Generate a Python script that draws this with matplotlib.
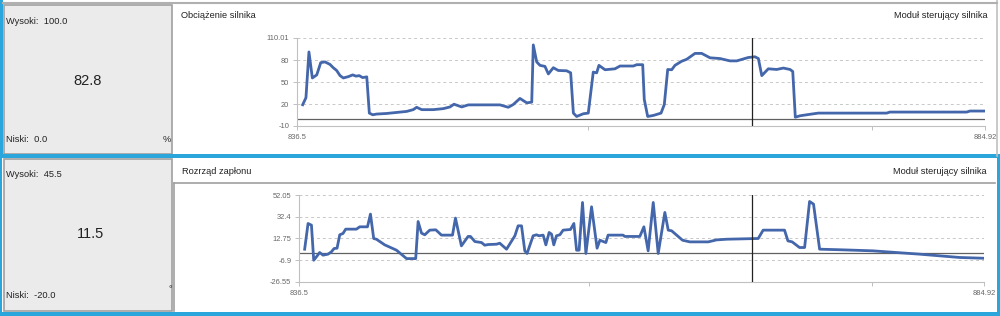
#!/usr/bin/env python3
"""Two stacked engine-parameter panels (load and ignition timing) in a dashboard style."""
import matplotlib
matplotlib.use("Agg")
import matplotlib.pyplot as plt
from matplotlib.patches import Rectangle
from matplotlib.lines import Line2D

plt.rcParams["font.family"] = ["Liberation Sans", "DejaVu Sans"]

W, H = 1000, 316

# --- data -------------------------------------------------------------------
load_t = [836.90, 837.13, 837.34, 837.58, 837.89, 838.17, 838.47, 838.82, 839.05,
          839.29, 839.53, 839.76, 840.11, 840.42, 840.65, 840.88, 841.12, 841.41,
          841.59, 841.83, 842.11, 842.81, 843.52, 844.22, 844.68, 844.92, 845.28,
          846.09, 846.80, 847.27, 847.55, 848.09, 848.56, 850.79, 851.37, 851.72,
          852.19, 852.67, 853.02, 853.13, 853.37, 853.60, 853.95, 854.19, 854.54,
          854.89, 855.48, 855.76, 855.95, 856.18, 856.65, 857.00, 857.35, 857.59,
          857.75, 858.18, 858.88, 859.23, 860.17, 860.41, 860.83, 860.94, 861.18,
          861.58, 862.12, 862.35, 862.59, 862.87, 863.10, 863.57, 863.93, 864.51,
          864.98, 865.57, 866.27, 866.97, 867.45, 868.26, 868.73, 868.97, 869.21,
          869.67, 870.26, 870.73, 871.20, 871.39, 871.57, 871.90, 872.37, 872.72,
          873.19, 878.00, 878.23, 883.63, 883.86, 884.92]
load_v = [19.0, 28.6, 91.0, 55.5, 59.7, 76.4, 77.4, 74.0, 69.5,
          65.7, 58.7, 55.5, 57.3, 59.7, 58.0, 58.7, 56.0, 57.0,
          7.6, 5.3, 6.3, 7.1, 8.5, 9.9, 12.3, 15.5, 12.3,
          12.3, 13.7, 16.0, 19.7, 16.0, 18.8, 18.8, 15.5, 19.3,
          27.6, 21.6, 22.5, 100.6, 77.4, 72.7, 71.3, 61.0, 69.5,
          65.7, 65.3, 62.5, 7.6, 3.0, 6.7, 7.6, 63.5, 62.5,
          72.7, 66.7, 68.0, 71.8, 71.8, 73.6, 73.6, 26.2, 3.0,
          4.4, 7.6, 19.3, 67.1, 66.7, 72.7, 78.3, 81.0, 89.0,
          89.0, 83.0, 82.0, 78.8, 78.8, 83.4, 84.4, 82.0, 58.7,
          68.0, 67.1, 69.0, 67.1, 64.3, 2.0, 3.9, 5.3, 6.3,
          7.6, 7.6, 9.0, 9.0, 10.4, 10.4]

ign_t = [836.90, 837.14, 837.38, 837.54, 837.73, 837.96, 838.20, 838.55, 838.79,
         838.98, 839.19, 839.38, 839.61, 839.80, 840.56, 840.79, 841.34, 841.55,
         841.78, 841.97, 842.56, 843.39, 844.10, 844.75, 844.92, 845.16, 845.39,
         845.74, 846.17, 846.57, 847.35, 847.56, 847.98, 848.45, 848.62, 848.93,
         849.40, 849.63, 849.87, 850.46, 850.69, 851.17, 851.76, 851.99, 852.23,
         852.46, 852.62, 853.05, 853.29, 853.47, 853.76, 853.95, 854.18, 854.35,
         854.51, 854.70, 854.94, 855.17, 855.69, 855.93, 856.12, 856.30, 856.54,
         856.78, 857.18, 857.57, 857.77, 858.19, 858.35, 859.41, 859.53, 860.59,
         860.88, 861.18, 861.54, 861.89, 862.36, 862.60, 862.84, 863.61, 864.13,
         865.43, 866.02, 866.73, 868.96, 869.31, 870.82, 871.06, 871.36, 871.88,
         872.24, 872.59, 872.87, 873.30, 874.95, 877.07, 878.71, 880.37, 881.78,
         883.20, 884.92]
ign_v = [3.1, 26.3, 24.8, -6.9, -3.85, 0.1, -2.3, -1.4, 0.7,
         3.7, 4.0, 16.1, 17.3, 21.2, 21.2, 23.3, 23.3, 34.8,
         12.75, 12.1, 7.0, 2.2, -5.4, -5.4, 28.1, 17.6, 16.1,
         20.3, 20.6, 15.8, 15.8, 31.2, 6.1, 14.6, 14.6, 10.0,
         9.1, 6.7, 7.3, 7.6, 8.5, 3.1, 15.2, 24.2, 24.2,
         1.6, -0.8, 15.2, 16.1, 15.2, 15.8, 7.0, 18.2, 16.7,
         7.0, 15.2, 16.1, 20.3, 20.9, 26.3, 2.2, 2.2, 45.3,
         -0.8, 41.4, 4.0, 11.2, 9.1, 15.8, 15.8, 14.6, 14.6,
         23.3, 1.6, 45.3, -0.8, 36.3, 20.3, 19.7, 11.2, 9.7,
         9.7, 11.5, 12.1, 12.75, 20.3, 20.3, 10.6, 9.7, 4.6,
         4.6, 46.2, 43.8, 3.1, 2.5, 1.6, 0.1, -1.4, -2.9,
         -4.4, -5.1]

x_min, x_max = 836.5, 884.92
cursor_t = 868.5
load_ticks = [110.01, 80, 50, 20, -10]
load_labels = ["110.01", "80", "50", "20", "-10"]
ign_ticks = [52.05, 32.4, 12.75, -6.9, -26.55]
ign_labels = ["52.05", "32.4", "12.75", "-6.9", "-26.55"]

LINE = "#4466aa"
CYAN = "#2aa6dc"
PANEL = "#ebebeb"
EDGE = "#a0a0a0"
TXT = "#222222"


def rect(fig, x0, y0, x1, y1, **kw):
    """Rectangle given in pixel coords (origin top-left), drawn behind the axes."""
    fig.add_artist(Rectangle((x0 / W, 1 - y1 / H), (x1 - x0) / W, (y1 - y0) / H,
                             transform=fig.transFigure, zorder=-5, **kw))


def hline(fig, x0, x1, y, **kw):
    fig.add_artist(Line2D([x0 / W, x1 / W], [1 - y / H, 1 - y / H],
                          transform=fig.transFigure, zorder=-4, **kw))


def vline(fig, x, y0, y1, **kw):
    fig.add_artist(Line2D([x / W, x / W], [1 - y0 / H, 1 - y1 / H],
                          transform=fig.transFigure, zorder=-4, **kw))


def text(fig, x, y, s, **kw):
    kw.setdefault("fontsize", 6.7)
    kw.setdefault("color", TXT)
    kw.setdefault("va", "center")
    fig.text(x / W, 1 - y / H, s, **kw)


def chart(fig, box, t, v, ticks, labels):
    x0, y0, x1, y1 = box
    ax = fig.add_axes([x0 / W, 1 - y1 / H, (x1 - x0) / W, (y1 - y0) / H])
    ax.set_facecolor("none")
    ax.plot(t, v, color=LINE, lw=2.0, solid_joinstyle="round", zorder=3)
    ax.axhline(0, color="#606060", lw=0.9, zorder=2)
    ax.axvline(cursor_t, color="#222222", lw=0.9, zorder=4)
    ax.set_xlim(x_min, x_max)
    ax.set_ylim(ticks[-1], ticks[0])
    for tv in ticks[:-1]:
        ax.axhline(tv, color="#c8c8c8", lw=0.7, ls=(0, (3, 3)), zorder=1)
    ax.axvline(x_max, color="#c8c8c8", lw=0.7, ls=(0, (3, 3)), zorder=1)
    ax.set_yticks(ticks)
    ax.set_yticklabels(labels)
    ax.set_xticks([x_min, 857, 877, x_max])
    ax.set_xticklabels(["836.5", "", "", "884.92"])
    ax.tick_params(labelsize=5.4, colors="#c0c0c0", labelcolor="#666666",
                   length=3, width=0.7, pad=2.5)
    ax.tick_params(axis="x", pad=3)
    for s in ("top", "right"):
        ax.spines[s].set_visible(False)
    for s in ("left", "bottom"):
        ax.spines[s].set_color("#c0c0c0")
        ax.spines[s].set_linewidth(0.8)
    return ax


if __name__ == "__main__":
    fig = plt.figure(figsize=(10, 3.16), dpi=100)
    fig.patch.set_facecolor("white")

    # outer frame and top strip of the panel above
    rect(fig, 0, 0, 3, 156, facecolor=CYAN, edgecolor="none")
    vline(fig, 997, 0, 156, color="#c0c0c0", lw=1.2)
    hline(fig, 3, 997, 3, color="#b0b0b0", lw=1.5)

    # top panel
    rect(fig, 4, 5, 172, 154, facecolor=PANEL, edgecolor=EDGE, lw=1.2)
    text(fig, 6, 22, "Wysoki:  100.0")
    text(fig, 88, 81, "82.8", fontsize=10.5, ha="center")
    text(fig, 6, 140, "Niski:  0.0")
    text(fig, 171, 140, "%", ha="right")
    text(fig, 181, 16, "Obciążenie silnika")
    text(fig, 988, 16, "Moduł sterujący silnika", ha="right")

    # bottom panel with selection border
    rect(fig, 0, 154, 1000, 316, facecolor=CYAN, edgecolor="none")
    rect(fig, 2, 158, 997, 312, facecolor="white", edgecolor="none")
    rect(fig, 2, 313, 997, 316, facecolor=CYAN, edgecolor="none")
    rect(fig, 4, 159, 172, 311, facecolor=PANEL, edgecolor=EDGE, lw=1.2)
    hline(fig, 174, 995, 183, color=EDGE, lw=1.2)
    vline(fig, 174, 183, 311, color=EDGE, lw=1.2)
    text(fig, 6, 175, "Wysoki:  45.5")
    text(fig, 90, 234, "11.5", fontsize=10.5, ha="center")
    text(fig, 6, 295, "Niski:  -20.0")
    text(fig, 172, 290, "°", ha="right")
    text(fig, 182, 172, "Rozrząd zapłonu")
    text(fig, 987, 172, "Moduł sterujący silnika", ha="right")

    chart(fig, (297, 38, 985, 126), load_t, load_v, load_ticks, load_labels)
    chart(fig, (299, 195, 984, 282), ign_t, ign_v, ign_ticks, ign_labels)

    fig.savefig("out.png", dpi=100)
    plt.close(fig)
